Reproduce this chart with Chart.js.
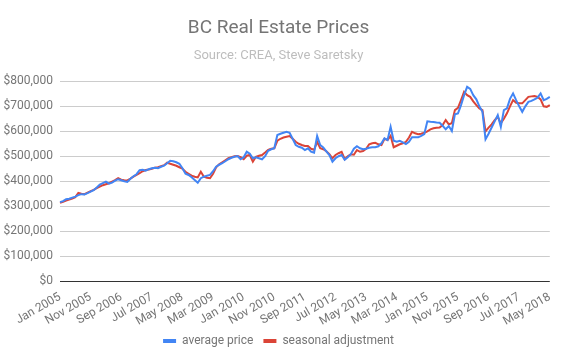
<!DOCTYPE html>
<html>
<head>
<meta charset="utf-8">
<script src="https://cdn.jsdelivr.net/npm/chart.js@4"></script>
<style>
  html, body { margin: 0; padding: 0; background: #fff; }
  #wrap { width: 566px; height: 362px; }
</style>
</head>
<body>
<div id="wrap"><canvas id="chart" width="566" height="362"></canvas></div>
<script>
(function () {
  'use strict';

  // categories: monthly, Jan 2005 .. May 2018
  const MONTH_NAMES = ['Jan', 'Feb', 'Mar', 'Apr', 'May', 'Jun', 'Jul', 'Aug', 'Sep', 'Oct', 'Nov', 'Dec'];
  const START_YEAR = 2005;
  const END_YEAR = 2018;
  const END_MONTH = 5;

  const AVERAGE_PRICE = [
    316000, 320000, 328000, 330000, 334000, 338000, 344000, 348000, 347000, 352000,
    358000, 364000, 375000, 386000, 392000, 398000, 390000, 394000, 402000, 408000,
    404000, 400000, 397000, 410000, 420000, 428000, 444000, 446000, 442000, 448000,
    452000, 454000, 452000, 458000, 462000, 472000, 482000, 480000, 476000, 470000,
    452000, 430000, 425000, 416000, 405000, 394000, 412000, 418000, 422000, 425000,
    440000, 458000, 466000, 472000, 480000, 488000, 494000, 498000, 501000, 488000,
    496000, 518000, 510000, 492000, 496000, 492000, 488000, 500000, 522000, 528000,
    532000, 585000, 590000, 594000, 598000, 594000, 570000, 545000, 538000, 534000,
    525000, 532000, 518000, 514000, 581000, 545000, 535000, 520000, 505000, 478000,
    492000, 500000, 505000, 486000, 496000, 508000, 530000, 540000, 532000, 528000,
    530000, 534000, 536000, 536000, 540000, 552000, 572000, 565000, 618000, 562000,
    558000, 562000, 556000, 549000, 558000, 576000, 576000, 576000, 582000, 589000,
    640000, 638000, 637000, 635000, 634000, 622000, 608000, 621000, 601000, 668000,
    672000, 705000, 745000, 778000, 770000, 745000, 728000, 700000, 678000, 568000,
    590000, 615000, 640000, 665000, 618000, 685000, 692000, 730000, 752000, 725000,
    700000, 678000, 700000, 718000, 722000, 728000, 735000, 752000, 725000, 730000,
    738000
  ];

  const SEASONAL_ADJ = [
    313000, 317000, 322000, 326000, 330000, 336000, 353000, 350000, 348000, 354000,
    360000, 365000, 372000, 378000, 384000, 388000, 392000, 398000, 404000, 412000,
    406000, 404000, 403000, 410000, 418000, 425000, 432000, 440000, 445000, 447000,
    450000, 454000, 456000, 460000, 464000, 474000, 470000, 466000, 462000, 456000,
    450000, 438000, 430000, 422000, 418000, 415000, 438000, 418000, 414000, 412000,
    430000, 456000, 468000, 476000, 484000, 492000, 496000, 500000, 501000, 496000,
    488000, 502000, 505000, 478000, 498000, 502000, 505000, 515000, 526000, 530000,
    532000, 562000, 570000, 575000, 578000, 581000, 570000, 558000, 550000, 545000,
    541000, 541000, 530000, 526000, 558000, 532000, 528000, 520000, 508000, 492000,
    505000, 512000, 518000, 488000, 500000, 508000, 506000, 525000, 518000, 521000,
    530000, 548000, 552000, 554000, 548000, 545000, 570000, 565000, 582000, 536000,
    542000, 548000, 552000, 558000, 575000, 598000, 592000, 588000, 590000, 594000,
    600000, 608000, 612000, 614000, 615000, 625000, 645000, 628000, 632000, 685000,
    694000, 725000, 758000, 745000, 738000, 720000, 705000, 692000, 685000, 600000,
    615000, 628000, 645000, 658000, 632000, 650000, 672000, 700000, 725000, 714000,
    712000, 712000, 725000, 738000, 740000, 741000, 738000, 728000, 700000, 698000,
    705000
  ];

  const LABEL_EVERY = 10;
  const Y_MIN = 0;
  const Y_MAX = 800000;
  const Y_STEP = 100000;

  const FONT = 'Roboto, "Noto Sans", sans-serif';
  const BLUE = '#4285f4';
  const RED = '#db4437';

  var labels = [];
  for (var y = START_YEAR; y <= END_YEAR; y++) {
    for (var m = 0; m < 12; m++) {
      if (y === END_YEAR && m >= END_MONTH) break;
      labels.push(MONTH_NAMES[m] + ' ' + y);
    }
  }

  function money(v) {
    return '$' + v.toLocaleString('en-US');
  }

  var ctx = document.getElementById('chart');
  new Chart(ctx, {
    type: 'line',
    data: {
      labels: labels,
      datasets: [{
        label: 'average price',
        data: AVERAGE_PRICE,
        borderColor: BLUE,
        backgroundColor: BLUE,
        borderWidth: 2,
        pointRadius: 0,
        tension: 0
      }, {
        label: 'seasonal adjustment',
        data: SEASONAL_ADJ,
        borderColor: RED,
        backgroundColor: RED,
        borderWidth: 2,
        pointRadius: 0,
        tension: 0
      }]
    },
    options: {
      responsive: false,
      animation: false,
      layout: { padding: { left: 0, right: 9, top: 0, bottom: 5 } },
      plugins: {
        title: {
          display: true,
          text: 'BC Real Estate Prices',
          color: '#757575',
          font: { family: FONT, size: 19, weight: 'normal' },
          padding: { top: 17, bottom: 8 }
        },
        subtitle: {
          display: true,
          text: 'Source: CREA, Steve Saretsky',
          color: '#bdbdbd',
          font: { family: FONT, size: 13, weight: 'normal' },
          padding: { top: 0, bottom: 18 }
        },
        legend: {
          position: 'bottom',
          labels: {
            color: '#757575',
            font: { family: FONT, size: 12 },
            boxWidth: 13,
            boxHeight: 4,
            padding: 10,
            generateLabels: function (chart) {
              var items = Chart.defaults.plugins.legend.labels.generateLabels(chart);
              items.forEach(function (it) { it.lineWidth = 0; });
              return items;
            }
          }
        },
        tooltip: { enabled: false }
      },
      scales: {
        x: {
          // fixed height so the plot bottom sits at $0 = y 281 (labels are clipped to this box)
          afterFit: function (scale) { scale.height = 44; },
          grid: { display: false, drawTicks: false },
          border: { display: false },
          ticks: {
            autoSkip: false,
            minRotation: 30,
            maxRotation: 30,
            padding: 9,
            color: '#757575',
            font: { family: FONT, size: 12 },
            callback: function (val, i) {
              return i % LABEL_EVERY === 0 ? this.getLabelForValue(val) : '';
            }
          }
        },
        y: {
          min: Y_MIN,
          max: Y_MAX,
          afterFit: function (scale) { scale.width = 60; },
          grid: {
            drawTicks: false,
            color: function (c) { return c.tick && c.tick.value === 0 ? '#333333' : '#cccccc'; }
          },
          border: { display: false },
          ticks: {
            stepSize: Y_STEP,
            padding: 7,
            color: '#757575',
            font: { family: FONT, size: 12 },
            callback: function (v) { return money(v); }
          }
        }
      }
    }
  });
})();
</script>
</body>
</html>
